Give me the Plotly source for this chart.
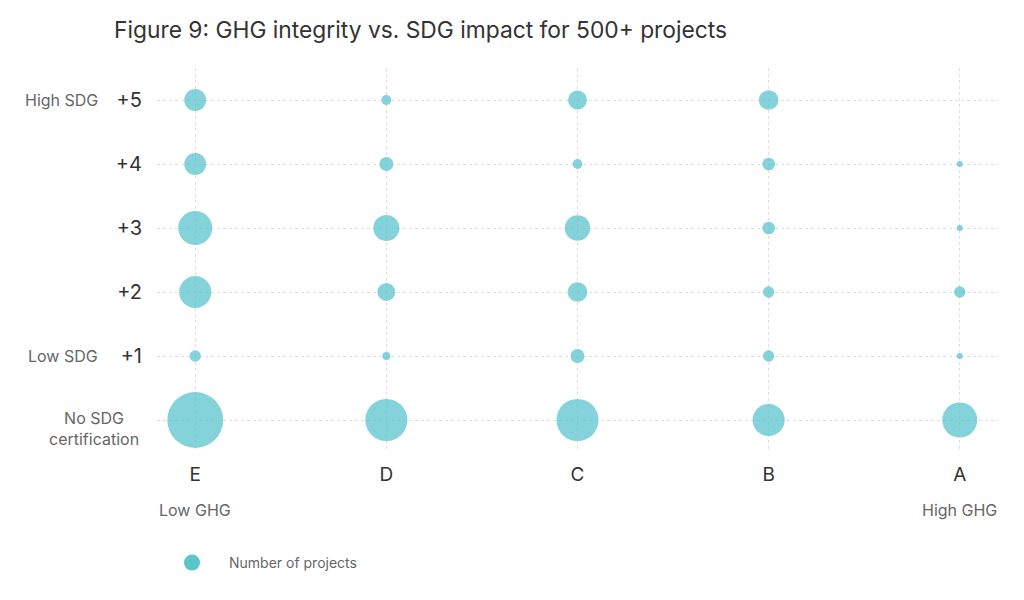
import plotly.graph_objects as go

ghg_grades = ["E", "D", "C", "B", "A"]
sdg_levels = [0, 1, 2, 3, 4, 5]
sdg_tick_labels = ["", "+1", "+2", "+3", "+4", "+5"]

# Number of projects per (GHG grade, SDG level); rows = SDG level 0..5 (0 = no SDG certification)
projects_E = [97, 4, 32, 36, 15, 15]
projects_D = [55, 2, 10, 21, 6, 3]
projects_C = [55, 6, 12, 20, 3, 11]
projects_B = [32, 4, 4, 5, 5, 12]
projects_A = [38, 1, 4, 1, 1, 0]

counts = {"E": projects_E, "D": projects_D, "C": projects_C, "B": projects_B, "A": projects_A}

xs, ys, ss = [], [], []
for grade in ghg_grades:
    for lvl, n in zip(sdg_levels, counts[grade]):
        if n > 0:
            xs.append(grade)
            ys.append(lvl)
            ss.append(n)

fig = go.Figure()
fig.add_trace(go.Scatter(
    x=xs, y=ys, mode="markers",
    marker=dict(size=ss, sizemode="area", sizeref=0.062, sizemin=3,
                color="#5bc4cf", opacity=0.75, line=dict(width=0)),
    showlegend=False, hoverinfo="x+y+text", text=[str(s) for s in ss],
))
fig.add_trace(go.Scatter(
    x=[None], y=[None], mode="markers", name="Number of projects",
    marker=dict(size=20, color="#5bc5cc"), showlegend=True,
))

grid = dict(showgrid=True, gridcolor="#dedede", griddash="dot", gridwidth=1,
            zeroline=False, showline=False, ticks="")
fig.update_xaxes(type="category", categoryorder="array", categoryarray=ghg_grades,
                 range=[-0.2, 4.2], tickfont=dict(size=19, color="#333333"),
                 ticklabelstandoff=9, **grid)
fig.update_yaxes(range=[-0.5, 5.5], tickmode="array", tickvals=sdg_levels,
                 ticktext=sdg_tick_labels, tickfont=dict(size=20, color="#333333"),
                 ticklabelstandoff=14, **grid)

gray = dict(size=16, color="#666666", family="Inter")
annotations = [
    dict(text="High SDG", xref="paper", yref="y", x=-0.0678, y=5, xanchor="right", yanchor="middle", showarrow=False, font=gray),
    dict(text="Low SDG", xref="paper", yref="y", x=-0.0678, y=1, xanchor="right", yanchor="middle", showarrow=False, font=gray),
    dict(text="No SDG<br>certification", xref="paper", yref="y", x=-0.075, y=0, yshift=-8, xanchor="center", yanchor="middle", showarrow=False, font=gray, align="center"),
    dict(text="Low GHG", xref="x", yref="paper", x="E", y=-0.151, xanchor="center", yanchor="middle", showarrow=False, font=gray),
    dict(text="High GHG", xref="x", yref="paper", x="A", y=-0.151, xanchor="center", yanchor="middle", showarrow=False, font=gray),
]

fig.update_layout(
    width=1024, height=600,
    margin=dict(l=149, r=34, t=60, b=156),
    paper_bgcolor="white", plot_bgcolor="white",
    font=dict(family="Inter", color="#333333"),
    title=dict(text="Figure 9: GHG integrity vs. SDG impact for 500+ projects",
               x=106/1024, xanchor="left", y=1 - 22/600, yanchor="middle",
               font=dict(size=22.8, color="#333333", family="Inter")),
    legend=dict(orientation="h", x=-0.0024, y=-0.289, xanchor="left", yanchor="middle",
                itemwidth=64,
                font=dict(size=14, color="#666666", family="Inter")),
    annotations=annotations,
)

fig.write_html("out.html")
